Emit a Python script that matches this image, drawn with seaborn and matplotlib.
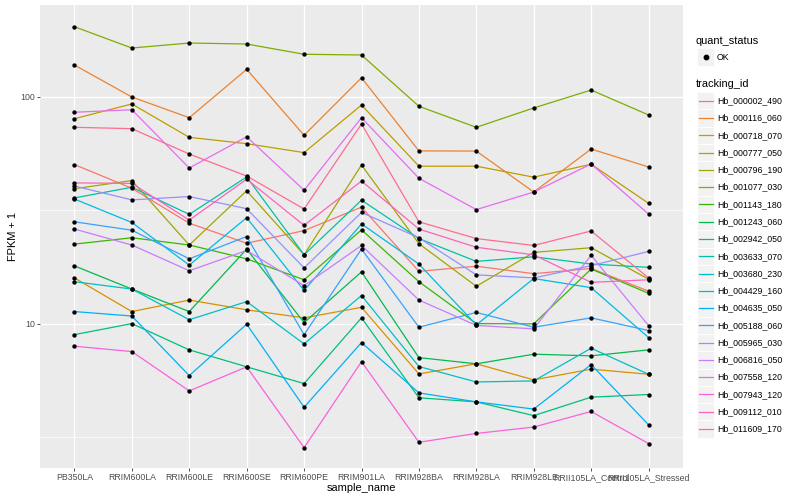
import numpy as np
import pandas as pd
import matplotlib
matplotlib.use("Agg")
import matplotlib.pyplot as plt
import seaborn as sns
from matplotlib.lines import Line2D
from matplotlib.patches import Rectangle
from matplotlib.ticker import FixedLocator, NullFormatter, NullLocator

# ---------------- data ----------------
samples = ["PB350LA", "RRIM600LA", "RRIM600LE", "RRIM600SE", "RRIM600PE",
           "RRIM901LA", "RRIM928BA", "RRIM928LA", "RRIM928LE",
           "RRII105LA_Control", "RRII105LA_Stressed"]

tracking_ids = ["Hb_000002_490", "Hb_000116_060", "Hb_000718_070", "Hb_000777_050",
                "Hb_000796_190", "Hb_001077_030", "Hb_001143_180", "Hb_001243_060",
                "Hb_002942_050", "Hb_003633_070", "Hb_003680_230", "Hb_004429_160",
                "Hb_004635_050", "Hb_005188_060", "Hb_005965_030", "Hb_006816_050",
                "Hb_007558_120", "Hb_007943_120", "Hb_009112_010", "Hb_011609_170"]

colors = ["#F8766D", "#EA8331", "#D89000", "#C09B00", "#A3A500", "#7CAE00",
          "#39B600", "#00BB4E", "#00BF7D", "#00C1A3", "#00BFC4", "#00BAE0",
          "#00B0F6", "#35A2FF", "#9590FF", "#C77CFF", "#E76BF3", "#FA62DB",
          "#FF62BC", "#FF6C91"]

# FPKM + 1 per sample (order of `samples`)
hb_000002_490 = [50.2, 39.5, 27.7, 22.6, 25.7, 32.6, 17.0, 17.9, 16.6, 17.5, 13.9]
hb_000116_060 = [137.9, 99.7, 80.8, 132.0, 67.6, 121.2, 57.7, 57.6, 38.0, 58.8, 49.0]
hb_000718_070 = [15.9, 11.3, 12.7, 11.5, 10.6, 11.8, 6.00, 6.65, 5.65, 6.30, 5.98]
hb_000777_050 = [80.0, 92.9, 66.2, 62.1, 56.7, 91.9, 49.4, 49.4, 44.2, 50.4, 33.9]
hb_000796_190 = [39.3, 42.7, 22.2, 38.5, 20.1, 50.0, 22.5, 14.6, 20.6, 21.6, 15.7]
hb_001077_030 = [203.4, 163.9, 172.4, 170.7, 153.8, 152.7, 90.7, 73.3, 89.2, 107.0, 83.1]
hb_001143_180 = [22.4, 23.9, 22.2, 19.3, 15.6, 25.9, 15.3, 10.0, 9.97, 17.4, 13.6]
hb_001243_060 = [17.96, 14.2, 11.3, 21.3, 10.1, 16.9, 7.08, 6.65, 7.33, 7.21, 7.66]
hb_002942_050 = [8.94, 10.0, 7.66, 6.45, 5.44, 10.6, 4.71, 4.52, 3.93, 4.74, 4.87]
hb_003633_070 = [35.8, 39.9, 30.3, 44.3, 20.1, 35.0, 23.7, 18.8, 19.7, 18.3, 17.7]
hb_003680_230 = [15.3, 14.2, 10.4, 12.5, 8.14, 13.3, 6.47, 5.53, 5.59, 7.79, 5.98]
hb_004429_160 = [35.4, 27.9, 18.1, 29.3, 14.0, 27.5, 18.3, 9.87, 15.8, 14.4, 8.68]
hb_004635_050 = [11.3, 10.8, 5.90, 9.94, 4.28, 8.25, 4.95, 4.52, 4.20, 6.60, 3.58]
hb_005188_060 = [28.1, 25.8, 19.3, 24.2, 8.94, 21.3, 9.64, 11.2, 9.64, 10.6, 9.32]
hb_005965_030 = [40.4, 35.1, 36.3, 32.1, 17.6, 30.9, 23.9, 16.4, 15.9, 18.0, 20.8]
hb_006816_050 = [26.1, 22.2, 17.1, 21.0, 14.7, 22.1, 12.7, 9.82, 9.48, 20.0, 9.80]
hb_007558_120 = [85.4, 87.6, 48.5, 66.6, 38.7, 80.8, 43.7, 31.8, 38.0, 50.5, 30.4]
hb_007943_120 = [7.95, 7.53, 5.05, 6.45, 2.84, 6.80, 3.00, 3.28, 3.50, 4.10, 2.96]
hb_009112_010 = [41.7, 41.5, 28.6, 43.3, 27.1, 42.5, 26.1, 21.7, 20.1, 15.2, 15.6]
hb_011609_170 = [73.3, 72.3, 55.9, 44.7, 32.0, 75.8, 28.1, 23.7, 22.1, 25.6, 15.9]

series = [hb_000002_490, hb_000116_060, hb_000718_070, hb_000777_050, hb_000796_190,
          hb_001077_030, hb_001143_180, hb_001243_060, hb_002942_050, hb_003633_070,
          hb_003680_230, hb_004429_160, hb_004635_050, hb_005188_060, hb_005965_030,
          hb_006816_050, hb_007558_120, hb_007943_120, hb_009112_010, hb_011609_170]

rows = []
for tid, vals in zip(tracking_ids, series):
    for s, v in zip(samples, vals):
        rows.append({"tracking_id": tid, "sample_name": s, "fpkm1": v, "quant_status": "OK"})
df = pd.DataFrame(rows)

# ---------------- figure ----------------
W, H = 800, 500
fig = plt.figure(figsize=(8, 5), dpi=100)
fig.patch.set_facecolor("white")

def fx(x):
    return x / W

def fy(y):
    return 1 - y / H

L, R, T, B = 40, 683, 5, 468
ax = fig.add_axes([fx(L), fy(B), (R - L) / W, (B - T) / H])
ax.set_facecolor("#EBEBEB")

FONT = "Liberation Sans"

sns.lineplot(data=df, x="sample_name", y="fpkm1", hue="tracking_id",
             hue_order=tracking_ids, palette=colors, sort=False, estimator=None,
             legend=False, linewidth=0.9, ax=ax)
sns.scatterplot(data=df, x="sample_name", y="fpkm1", color="black", s=10,
                linewidth=0, legend=False, ax=ax, zorder=5)

ax.set_yscale("log")
ax.set_ylim(2.31, 253.6)
ax.set_xlim(-0.6, len(samples) - 0.4)

ax.set_yticks([10, 100])
ax.set_yticklabels(["10", "100"])
ax.yaxis.set_minor_locator(FixedLocator([10 ** 0.5, 10 ** 1.5]))
ax.yaxis.set_minor_formatter(NullFormatter())
ax.xaxis.set_minor_locator(NullLocator())
ax.set_xticks(range(len(samples)))
ax.set_xticklabels(samples)

ax.grid(True, which="major", color="white", linewidth=1.0)
ax.grid(True, which="minor", axis="y", color="white", linewidth=0.5)
ax.set_axisbelow(True)
for sp in ax.spines.values():
    sp.set_visible(False)

ax.tick_params(which="major", length=2.0, width=0.6, color="#333333",
               labelcolor="#4D4D4D", labelsize=6.3, pad=1.6)
ax.tick_params(which="minor", length=0)
for lab in ax.get_xticklabels() + ax.get_yticklabels():
    lab.set_fontfamily(FONT)

ax.set_xlabel("sample_name", fontsize=7.9, fontfamily=FONT, color="black")
ax.set_ylabel("FPKM + 1", fontsize=7.9, fontfamily=FONT, color="black")
ax.xaxis.set_label_coords(0.5, (B - 488) / (B - T))
ax.xaxis.label.set_va("center")
ax.yaxis.set_label_coords((12.5 - L) / (R - L), 0.5)
ax.yaxis.label.set_va("center")

# ---------------- legends (ggplot style) ----------------
key_l, key_r = 697, 714.3
key_h = 17.28
text_x = 716.8

fig.text(fx(696), fy(40.7), "quant_status", fontsize=7.9, fontfamily=FONT,
         va="center", ha="left")
cy = 57.0
fig.add_artist(Rectangle((fx(key_l), fy(cy + key_h / 2)), (key_r - key_l) / W, key_h / H,
                         transform=fig.transFigure, facecolor="#F2F2F2",
                         edgecolor="white", linewidth=0.6))
fig.add_artist(Line2D([fx((key_l + key_r) / 2)], [fy(cy)], transform=fig.transFigure,
                      marker="o", markersize=3.2, color="black", linestyle="none"))
fig.text(fx(text_x), fy(cy), "OK", fontsize=6.3, fontfamily=FONT, va="center", ha="left")

fig.text(fx(696), fy(84.3), "tracking_id", fontsize=7.9, fontfamily=FONT,
         va="center", ha="left")
for i, (tid, col) in enumerate(zip(tracking_ids, colors)):
    cy = 100.7 + i * key_h
    fig.add_artist(Rectangle((fx(key_l), fy(cy + key_h / 2)), (key_r - key_l) / W, key_h / H,
                             transform=fig.transFigure, facecolor="#F2F2F2",
                             edgecolor="white", linewidth=0.6))
    fig.add_artist(Line2D([fx(key_l + 1.7), fx(key_r - 1.7)], [fy(cy), fy(cy)],
                          transform=fig.transFigure, color=col, linewidth=0.9))
    fig.text(fx(text_x), fy(cy), tid, fontsize=6.3, fontfamily=FONT,
             va="center", ha="left")

fig.savefig("out.png", dpi=100)
